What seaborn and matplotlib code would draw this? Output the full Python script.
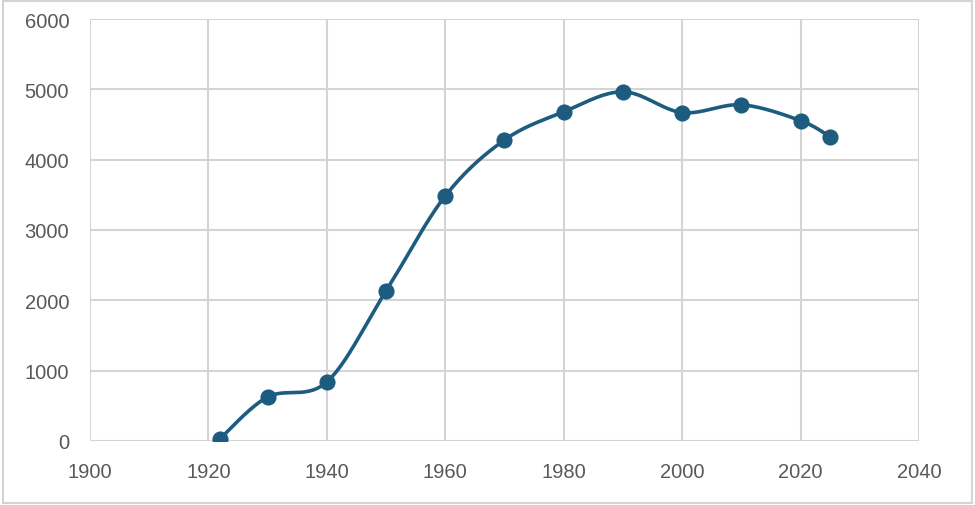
import numpy as np
import pandas as pd
import matplotlib
matplotlib.use('Agg')
import matplotlib.pyplot as plt
import seaborn as sns
from matplotlib.patches import Rectangle

# Data
years = [1922, 1930, 1940, 1950, 1960, 1970, 1980, 1990, 2000, 2010, 2020, 2025]
values = [35, 626, 840, 2135, 3485, 4280, 4680, 4965, 4670, 4780, 4555, 4325]

LINE_COLOR = '#1D5C7E'
GRID_COLOR = '#D4D4D4'
TEXT_COLOR = '#595959'


def smooth_curve(xs, ys, steps=30):
    # Excel-like smoothed line: parametric Catmull-Rom through the points
    pts = np.column_stack([xs, ys]).astype(float)
    pts = np.vstack([pts[0], pts, pts[-1]])
    out = []
    for i in range(1, len(pts) - 2):
        p0, p1, p2, p3 = pts[i - 1], pts[i], pts[i + 1], pts[i + 2]
        c1 = p1 + (p2 - p0) / 6.0
        c2 = p2 - (p3 - p1) / 6.0
        t = np.linspace(0, 1, steps, endpoint=(i == len(pts) - 3))[:, None]
        seg = ((1 - t) ** 3) * p1 + 3 * ((1 - t) ** 2) * t * c1 + 3 * (1 - t) * t ** 2 * c2 + t ** 3 * p2
        out.append(seg)
    out = np.vstack(out)
    return out[:, 0], out[:, 1]


df = pd.DataFrame({'year': years, 'value': values})
sx, sy = smooth_curve(df['year'], df['value'])
curve = pd.DataFrame({'x': sx, 'y': sy, 'order': np.arange(len(sx))})

sns.set_style('white')
plt.rcParams['font.family'] = ['Liberation Sans', 'DejaVu Sans']

fig = plt.figure(figsize=(9.75, 5.06), dpi=100)
ax = fig.add_axes([90 / 975, 1 - 442 / 506, (919 - 90) / 975, (442 - 20) / 506])

sns.lineplot(data=curve, x='x', y='y', sort=False, estimator=None, ax=ax,
             color=LINE_COLOR, linewidth=2.6, zorder=3)
sns.scatterplot(data=df, x='year', y='value', ax=ax, color=LINE_COLOR,
                s=135, edgecolor=LINE_COLOR, linewidth=0, zorder=4)

ax.set_xlim(1900, 2040)
ax.set_ylim(0, 6000)
ax.set_xticks(range(1900, 2041, 20))
ax.set_yticks(range(0, 6001, 1000))
ax.grid(True, color=GRID_COLOR, linewidth=1.5)
ax.set_axisbelow(True)
for s in ax.spines.values():
    s.set_visible(False)
ax.tick_params(axis='both', length=0, labelsize=14.5, labelcolor=TEXT_COLOR)
ax.tick_params(axis='y', pad=15)
ax.tick_params(axis='x', pad=15)
ax.set_xlabel('')
ax.set_ylabel('')

# chart area border
fig.patches.append(Rectangle((0.003, 0.004), 0.994, 0.992, transform=fig.transFigure,
                             fill=False, edgecolor=GRID_COLOR, linewidth=1.5))

fig.savefig('out.png', dpi=100)
